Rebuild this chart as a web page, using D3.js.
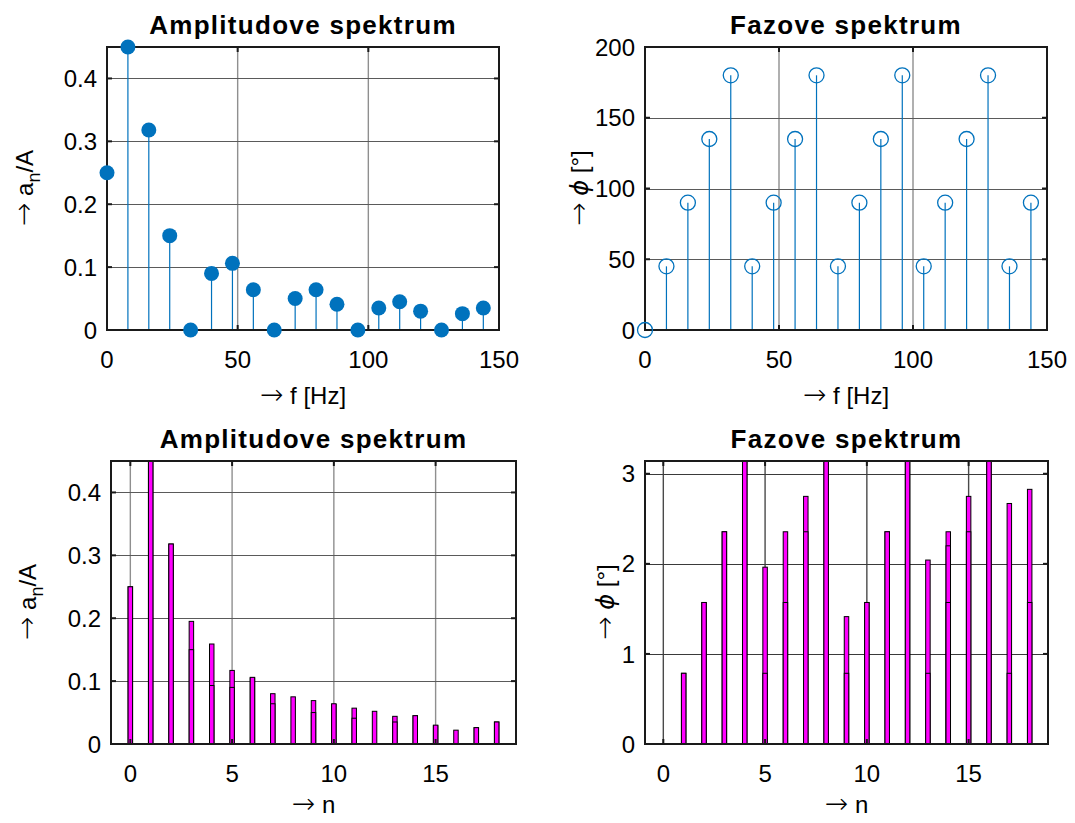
<!DOCTYPE html>
<html>
<head>
<meta charset="utf-8">
<script src="https://cdn.jsdelivr.net/npm/d3@7/dist/d3.min.js"></script>
<style>
  body { margin: 0; background: #fff; }
  text { font-family: "Liberation Sans", Arial, sans-serif; fill: #000; }
  .sym { font-family: "DejaVu Sans", sans-serif; }
  .arr { font-family: "DejaVu Sans", sans-serif; font-weight: 200; }
</style>
</head>
<body>
<script>
// spectrum of the signal
const freqs = [0, 8, 16, 24, 32, 40, 48, 56, 64, 72, 80, 88, 96, 104, 112, 120, 128, 136, 144];
const ampSpectrum = [0.25, 0.45, 0.318, 0.15, 0, 0.09, 0.106, 0.064, 0, 0.05, 0.064, 0.041, 0, 0.035, 0.045, 0.03, 0, 0.026, 0.035];
const phaseDeg = [0, 45, 90, 135, 180, 45, 90, 135, 180, 45, 90, 135, 180, 45, 90, 135, 180, 45, 90];

// harmonic index for the bar plots (three overlapping bar series each)
const harmonics = [0, 1, 2, 3, 4, 5, 6, 7, 8, 9, 10, 11, 12, 13, 14, 15, 16, 17, 18];
const ampBarsHigh = [0.25, 0.45, 0.318, 0.195, 0.159, 0.117, 0.105, 0.08, 0.075, 0.069, 0.063, 0.057, 0.052, 0.044, 0.045, 0.029, 0.022, 0.026, 0.035];
const ampBarsMid = [null, null, null, null, 0.093, null, null, null, null, null, null, null, null, null, null, null, null, null, null];
const ampBarsLow = [0.25, 0.45, 0.318, 0.15, 0, 0.09, 0.106, 0.064, 0, 0.05, 0.064, 0.041, 0, 0.035, 0.045, 0.03, 0, 0.026, 0.035];
const phaseBarsHigh = [0, 0.785, 1.571, 2.356, 3.1416, 1.963, 2.356, 2.749, 3.1416, 1.414, 1.571, 2.356, 3.1416, 2.042, 2.356, 2.749, 3.1416, 2.67, 2.827];
const phaseBarsMid = [null, null, null, null, null, null, null, null, null, null, null, null, null, null, 2.2, null, null, null, null];
const phaseBarsLow = [0, 0.785, 1.571, 2.356, 3.1416, 0.785, 1.571, 2.356, 3.1416, 0.785, 1.571, 2.356, 3.1416, 0.785, 1.571, 2.356, 3.1416, 0.785, 1.571];

const ticksF = [0, 50, 100, 150];
const ticksN = [0, 5, 10, 15];
const ticksAmp = [0, 0.1, 0.2, 0.3, 0.4];
const ticksDeg = [0, 50, 100, 150, 200];
const ticksRad = [0, 1, 2, 3];

const w = 1075;
const h = 823;
const blue = '#0072BD';
const magenta = '#ff00ff';

const svg = d3.select('body').append('svg').attr('width', w).attr('height', h);

// text made of parts: {s, cls, dy, size, italic}
function richText(t, parts) {
  parts.forEach(p => {
    const s = t.append('tspan').text(p.s);
    if (p.cls) s.attr('class', p.cls);
    if (p.dy) s.attr('dy', p.dy);
    if (p.size) s.style('font-size', p.size);
    if (p.italic) s.style('font-style', 'italic');
  });
  return t;
}

function panel(box, xDomain, yDomain, xTicks, yTicks, title, xLabel) {
  const x = d3.scaleLinear().domain(xDomain).range([box.left, box.right]);
  const y = d3.scaleLinear().domain(yDomain).range([box.bottom, box.top]);
  const g = svg.append('g');
  const grid = g.append('g');
  grid.selectAll('.gx').data(xTicks).enter().append('line')
      .attr('x1', d => x(d)).attr('x2', d => x(d))
      .attr('y1', box.top).attr('y2', box.bottom)
      .attr('stroke', box.gridX).attr('stroke-width', 1.4);
  grid.selectAll('.gy').data(yTicks).enter().append('line')
      .attr('x1', box.left).attr('x2', box.right)
      .attr('y1', d => Math.round(y(d)) + 0.5).attr('y2', d => Math.round(y(d)) + 0.5)
      .attr('stroke', box.gridY).attr('stroke-width', 1.2);

  g.append('text').text(title)
   .attr('x', (box.left + box.right) / 2).attr('y', box.top - 13)
   .attr('text-anchor', 'middle').style('font-weight', 'bold')
   .style('font-size', '26px').style('letter-spacing', '1.3px');

  g.selectAll('.xl').data(xTicks).enter().append('text')
   .text(d => d3.format('')(d))
   .attr('x', d => x(d)).attr('y', box.bottom + 38)
   .attr('text-anchor', 'middle').style('font-size', '24px');
  g.selectAll('.yl').data(yTicks).enter().append('text')
   .text(d => d3.format('')(d))
   .attr('x', box.left - 10).attr('y', d => y(d)).attr('dy', '0.36em')
   .attr('text-anchor', 'end').style('font-size', '24px');

  richText(g.append('text')
   .attr('x', (box.left + box.right) / 2).attr('y', box.bottom + box.labelGap)
   .attr('text-anchor', 'middle').style('font-size', '24px'), xLabel);

  const frame = function() {
    const f = svg.append('g');
    const ink = '#1a1a1a';
    f.append('rect')
     .attr('x', box.left).attr('y', box.top)
     .attr('width', box.right - box.left).attr('height', box.bottom - box.top)
     .attr('fill', 'none').attr('stroke', ink).attr('stroke-width', 2);
    xTicks.forEach(t => {
      f.append('line').attr('x1', x(t)).attr('x2', x(t)).attr('y1', box.bottom).attr('y2', box.bottom - 5).attr('stroke', ink).attr('stroke-width', 2);
      f.append('line').attr('x1', x(t)).attr('x2', x(t)).attr('y1', box.top).attr('y2', box.top + 5).attr('stroke', ink).attr('stroke-width', 2);
    });
    yTicks.forEach(t => {
      f.append('line').attr('x1', box.left).attr('x2', box.left + 5).attr('y1', y(t)).attr('y2', y(t)).attr('stroke', ink).attr('stroke-width', 2);
      f.append('line').attr('x1', box.right).attr('x2', box.right - 5).attr('y1', y(t)).attr('y2', y(t)).attr('stroke', ink).attr('stroke-width', 2);
    });
  };
  return { g, x, y, frame };
}

function yLabel(px, py, parts) {
  richText(svg.append('text')
    .attr('transform', 'translate(' + px + ',' + py + ')rotate(-90)')
    .attr('text-anchor', 'middle').style('font-size', '24px'), parts);
}

const arrow = { s: '\u2192', cls: 'arr', size: '28px' };
const fLabel = [arrow, { s: ' f [Hz]' }];
const nLabel = [arrow, { s: ' n' }];
const aLabel = [arrow, { s: ' a' }, { s: 'n', dy: 7, size: '18px' }, { s: '/A', dy: -7 }];
const phiLabel = [arrow, { s: ' ' }, { s: '\u03d5', cls: 'sym', italic: true }, { s: ' [\u00b0]' }];

// ---- top left: amplitude stems
const tl = panel({ left: 107, right: 499, top: 47, bottom: 330, labelGap: 74, gridX: '#8f8f8f', gridY: '#5a5a5a' },
                 [0, 150], [0, 0.45], ticksF, ticksAmp, 'Amplitudove spektrum', fLabel);
tl.frame();
tl.g.selectAll('.stem').data(freqs).enter().append('line')
    .attr('x1', d => tl.x(d)).attr('x2', d => tl.x(d))
    .attr('y1', tl.y(0)).attr('y2', (d, i) => tl.y(ampSpectrum[i]))
    .attr('stroke', blue).attr('stroke-width', 1.2);
svg.append('g').selectAll('circle').data(freqs).enter().append('circle')
   .attr('cx', d => tl.x(d)).attr('cy', (d, i) => tl.y(ampSpectrum[i]))
   .attr('r', 7.5).attr('fill', blue);
yLabel(33, 188, aLabel);

// ---- top right: phase stems
const tr = panel({ left: 645, right: 1047, top: 47, bottom: 330, labelGap: 74, gridX: '#8f8f8f', gridY: '#5a5a5a' },
                 [0, 150], [0, 200], ticksF, ticksDeg, 'Fazove spektrum', fLabel);
tr.frame();
tr.g.selectAll('.stem').data(freqs).enter().append('line')
    .attr('x1', d => tr.x(d)).attr('x2', d => tr.x(d))
    .attr('y1', tr.y(0)).attr('y2', (d, i) => tr.y(phaseDeg[i]))
    .attr('stroke', blue).attr('stroke-width', 1.2);
svg.append('g').selectAll('circle').data(freqs).enter().append('circle')
   .attr('cx', d => tr.x(d)).attr('cy', (d, i) => tr.y(phaseDeg[i]))
   .attr('r', 7.5).attr('fill', 'none').attr('stroke', blue).attr('stroke-width', 1.3);
yLabel(588, 188, phiLabel);

// ---- bottom: overlapping bar series
function bars(p, series) {
  const bw = (p.x(harmonics[1]) - p.x(harmonics[0])) * 0.22;
  series.forEach(vals => {
    p.g.append('g').selectAll('rect').data(harmonics.filter((d, i) => vals[i] !== null)).enter().append('rect')
       .attr('x', d => p.x(d) - bw / 2)
       .attr('y', d => p.y(vals[harmonics.indexOf(d)]))
       .attr('width', bw)
       .attr('height', d => p.y(0) - p.y(vals[harmonics.indexOf(d)]))
       .attr('fill', magenta).attr('stroke', '#000').attr('stroke-width', 1);
  });
}

const bl = panel({ left: 111, right: 516, top: 461, bottom: 744, labelGap: 69, gridX: '#8f8f8f', gridY: '#5a5a5a' },
                 [-0.95, 18.95], [0, 0.45], ticksN, ticksAmp, 'Amplitudove spektrum', nLabel);
bars(bl, [ampBarsHigh, ampBarsMid, ampBarsLow]);
bl.frame();
yLabel(36, 602, aLabel);

const br = panel({ left: 645, right: 1048, top: 461, bottom: 744, labelGap: 69, gridX: '#4a4a4a', gridY: '#3a3a3a' },
                 [-0.9, 18.9], [0, Math.PI], ticksN, ticksRad, 'Fazove spektrum', nLabel);
bars(br, [phaseBarsHigh, phaseBarsMid, phaseBarsLow]);
br.frame();
yLabel(614, 602, phiLabel);
</script>
</body>
</html>
